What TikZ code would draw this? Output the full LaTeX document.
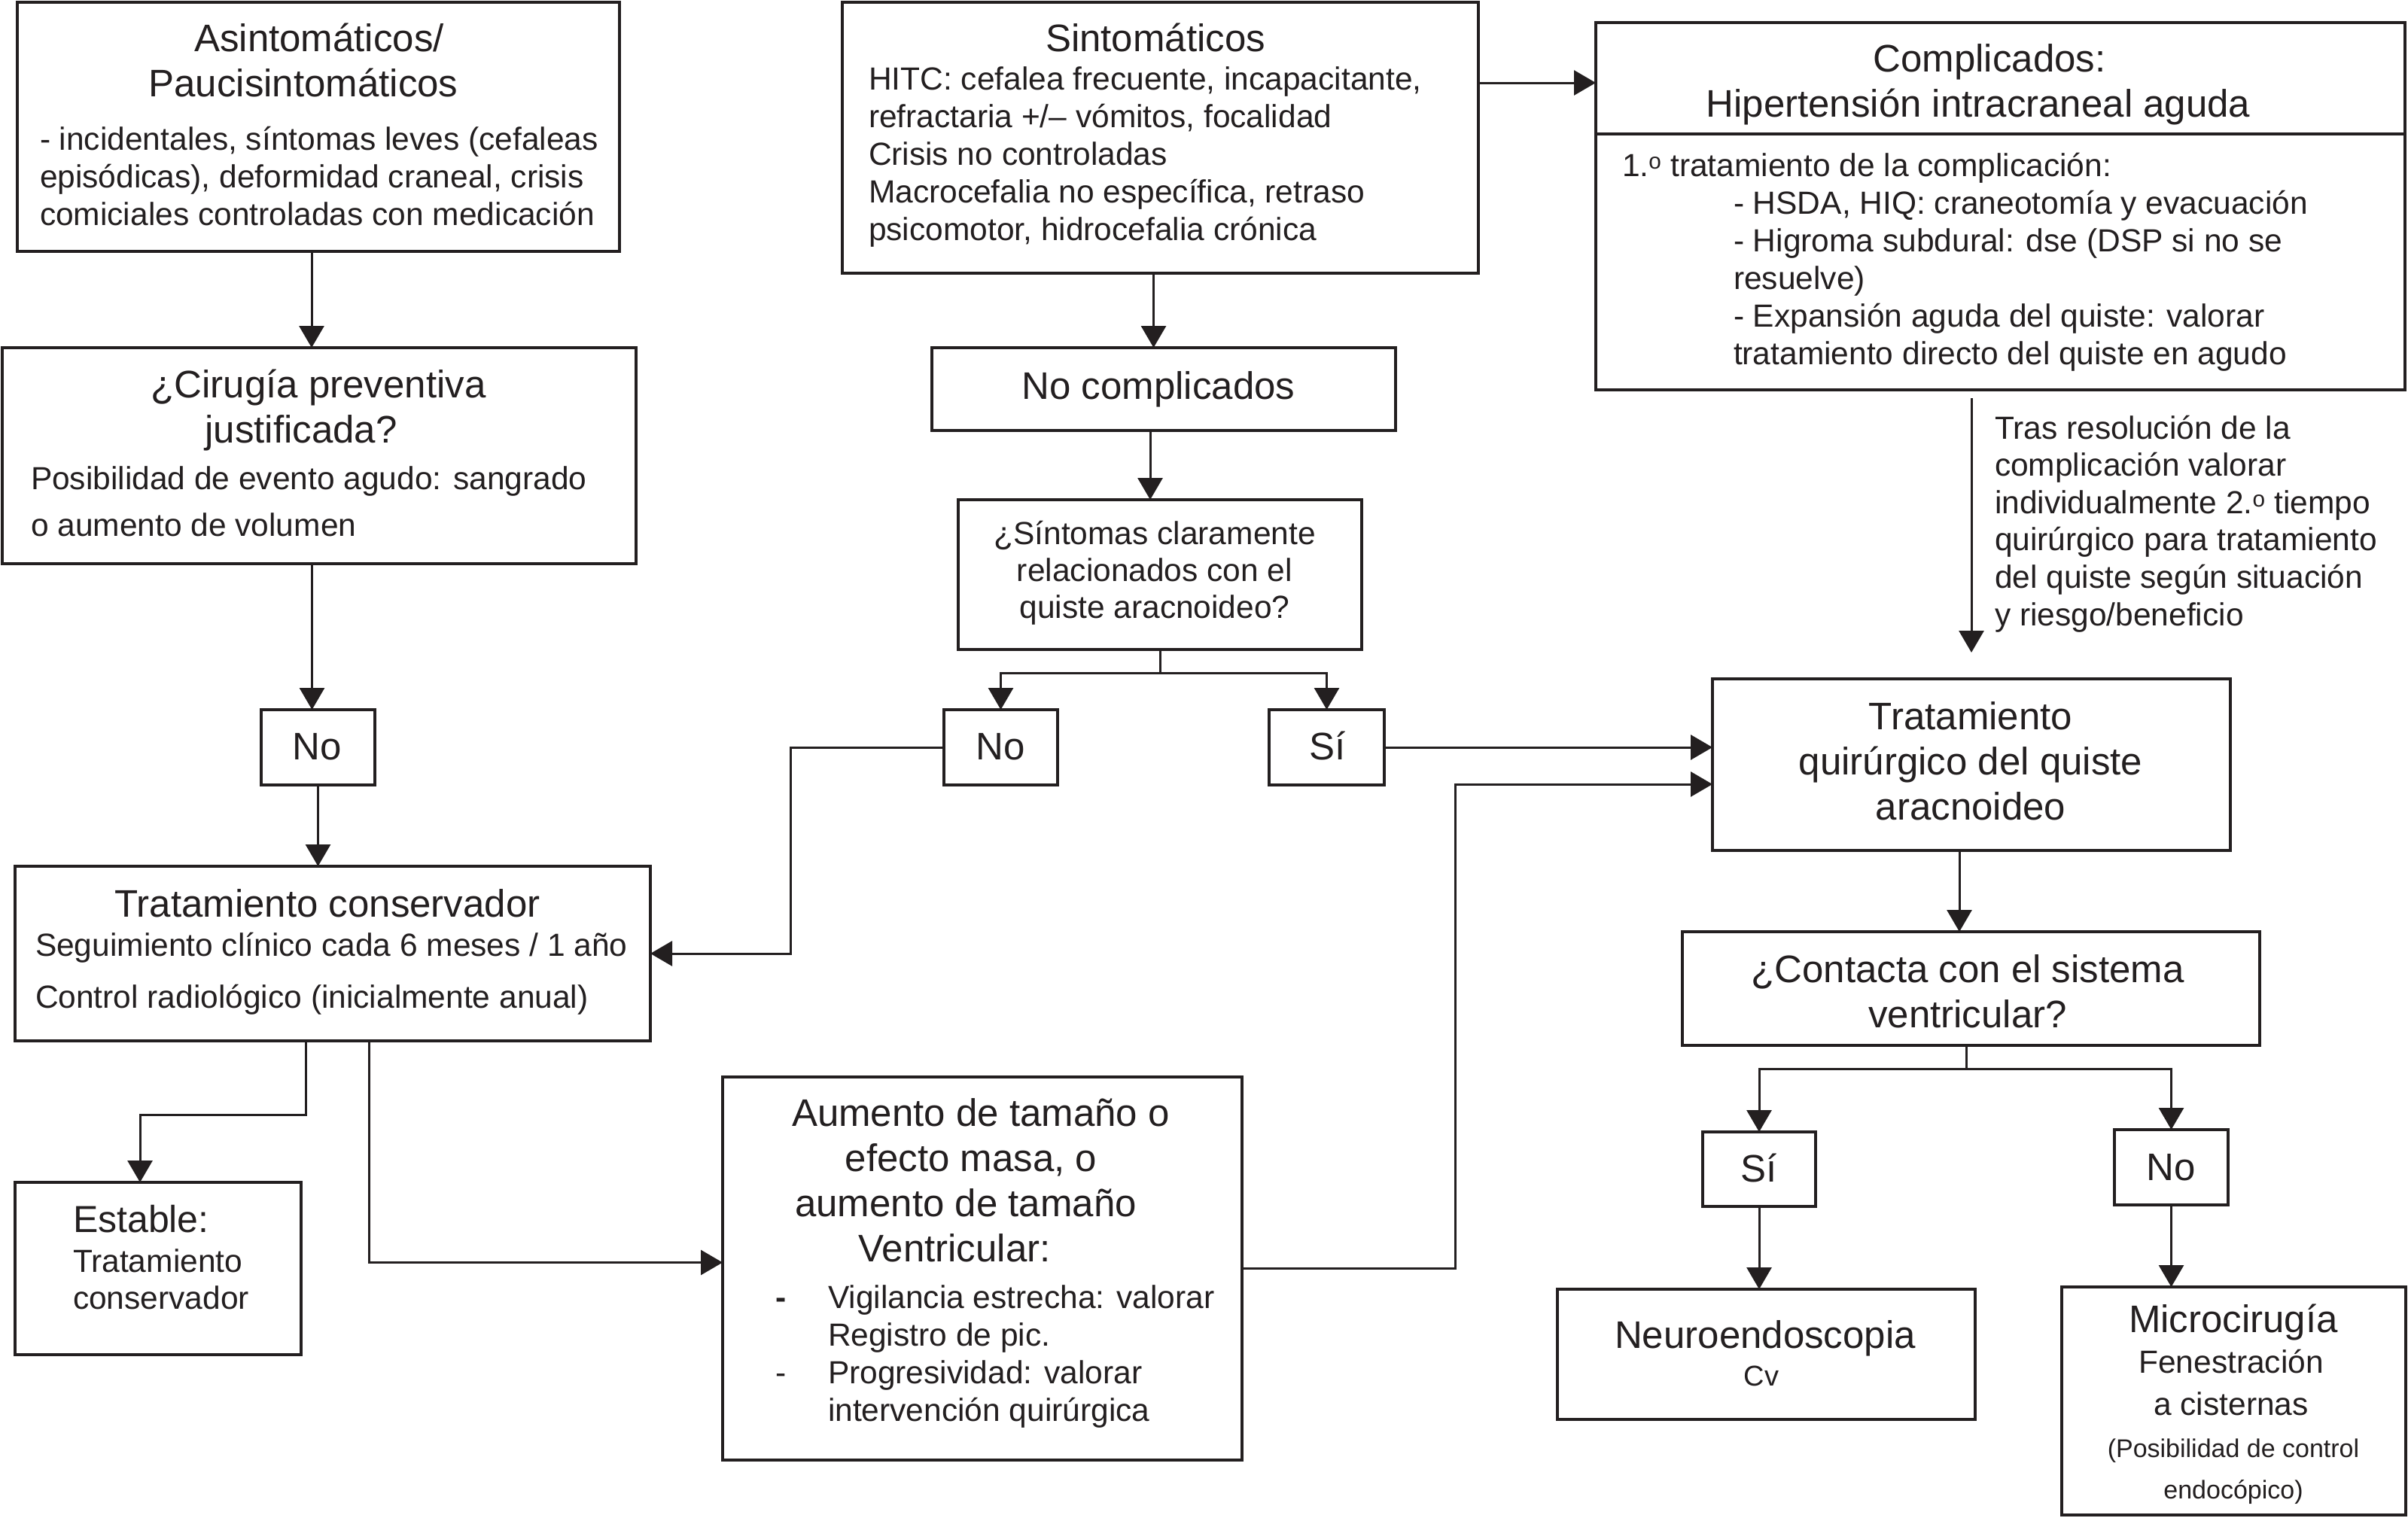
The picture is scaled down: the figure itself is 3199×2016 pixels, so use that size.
\documentclass[tikz,border=0pt]{standalone}
\usepackage{fontspec}
\setmainfont{Liberation Sans}
\usetikzlibrary{arrows.meta}
\definecolor{ink}{RGB}{35,31,32}
\newcommand{\CL}[2]{\vtop{#1\halign{\hfil##\hfil\cr#2\crcr}}}
\newcommand{\LL}[2]{\vtop{#1\halign{##\hfil\cr#2\crcr}}}
\newcommand{\fT}{\fontsize{51}{60}\selectfont}
\newcommand{\fB}[1]{\fontsize{42.5}{#1}\selectfont}
\newcommand{\bx}[5]{\node[box, minimum width={#4-#2}, minimum height={#5-#3}] (#1) at ({(#2+#4)/2},{(#3+#5)/2}) {};}
\tikzset{
  box/.style={draw=ink, line width=3.5pt, inner sep=0pt, outer sep=0pt},
  txt/.style={inner sep=0pt, outer sep=0pt, text=ink},
  arr/.style={draw=ink, line width=3pt, -{Triangle[length=29pt,width=33pt]}},
  ln/.style={draw=ink, line width=3pt},
}
\begin{document}
\begin{tikzpicture}[x=1pt,y=-1pt]
\fill[white] (0,0) rectangle (3199,2016);
\useasboundingbox (0,0) rectangle (3199,2016);
% boxes
\bx{A}{23}{3}{823}{334}
\bx{B}{1119}{3}{1964}{363}
\bx{C}{2120}{30}{3195}{518}
\draw[ln, line width=3.5pt] ([yshift=-148pt]C.north west) -- ([yshift=-148pt]C.north east);
\bx{D}{3}{462}{845}{749}
\bx{E}{1238}{462}{1854}{572}
\bx{F}{1273}{664}{1809}{863}
\bx{G}{347}{943}{498}{1043}
\bx{H}{1254}{943}{1405}{1043}
\bx{I}{1686}{943}{1839}{1043}
\bx{J}{2275}{902}{2963}{1130}
\bx{K}{20}{1151}{864}{1383}
\bx{L}{20}{1571}{400}{1800}
\bx{M}{960}{1431}{1650}{1940}
\bx{N}{2235}{1238}{3002}{1389}
\bx{O}{2262}{1504}{2412}{1603}
\bx{P}{2809}{1501}{2960}{1601}
\bx{Q}{2069}{1713}{2624}{1886}
\bx{R}{2739}{1710}{3196}{2013}
% texts
\node[txt,anchor=base] (At) at (424,68) {\CL{\fT}{Asintomáticos/\cr Paucisintomáticos\hskip42pt}};
\node[txt,anchor=base west] (Ab) at (53,199) {\LL{\fB{50}}{- incidentales, síntomas leves (cefaleas\cr episódicas), deformidad craneal, crisis\cr comiciales controladas con medicación}};
\node[txt,anchor=base] (Dt) at (423,528) {\CL{\fT}{¿Cirugía preventiva\cr justificada?\hskip46pt}};
\node[txt,anchor=base west] (Db) at (41,650) {\LL{\fB{62}}{Posibilidad de evento agudo: sangrado\cr o aumento de volumen}};
\node[txt,anchor=base] (Bt) at (1535,68) {\CL{\fT}{Sintomáticos}};
\node[txt,anchor=base west] (Bb) at (1154,119) {\LL{\fB{50}}{HITC: cefalea frecuente, incapacitante,\cr refractaria +/– vómitos, focalidad\cr Crisis no controladas\cr Macrocefalia no específica, retraso\cr psicomotor, hidrocefalia crónica}};
\node[txt,anchor=base] (Ct) at (2643,95) {\CL{\fT}{Complicados:\cr Hipertensión intracraneal aguda\hskip30pt}};
\node[txt,anchor=base west] (Cb1) at (2155,234) {\LL{\fB{50}}{1.\textsuperscript{o} tratamiento de la complicación:}};
\node[txt,anchor=base west] (Cb2) at (2303,284) {\LL{\fB{50}}{- HSDA, HIQ: craneotomía y evacuación\cr - Higroma subdural: dse (DSP si no se\cr resuelve)\cr - Expansión aguda del quiste: valorar\cr tratamiento directo del quiste en agudo}};
\node[txt,anchor=base west] (T) at (2650,583) {\LL{\fB{49.6}}{Tras resolución de la\cr complicación valorar\cr individualmente 2.\textsuperscript{o} tiempo\cr quirúrgico para tratamiento\cr del quiste según situación\cr y riesgo/beneficio}};
\node[txt,anchor=base] (Et) at (1539,530) {\CL{\fT}{No complicados}};
\node[txt,anchor=base] (Ft) at (1534,723) {\CL{\fB{49}}{¿Síntomas claramente\cr relacionados con el\cr quiste aracnoideo?}};
\node[txt,anchor=base] (Gt) at (421,1009) {\CL{\fT}{No}};
\node[txt,anchor=base] (Ht) at (1329,1009) {\CL{\fT}{No}};
\node[txt,anchor=base] (It) at (1764,1009) {\CL{\fT}{Sí}};
\node[txt,anchor=base] (Kt) at (435,1218) {\CL{\fT}{Tratamiento conservador}};
\node[txt,anchor=base west] (Kb) at (47,1270) {\LL{\fB{69}}{Seguimiento clínico cada 6 meses / 1 año\cr Control radiológico (inicialmente anual)}};
\node[txt,anchor=base west] (Lt) at (97,1637) {\LL{\fontsize{50}{60}\selectfont}{Estable:}};
\node[txt,anchor=base west] (Lb) at (97,1690) {\LL{\fB{49}}{Tratamiento\cr conservador}};
\node[txt,anchor=base] (Mt) at (1287,1496) {\CL{\fT}{\hskip32pt Aumento de tamaño o\cr \hskip6pt efecto masa, o\cr aumento de tamaño\hskip8pt\cr Ventricular:\hskip38pt}};
\node[txt,anchor=base west] (Md) at (1030,1738) {\LL{\fB{100}}{\textbf{-}\cr -}};
\node[txt,anchor=base west] (Mb) at (1100,1738) {\LL{\fB{50}}{Vigilancia estrecha: valorar\cr Registro de pic.\cr Progresividad: valorar\cr intervención quirúrgica}};
\node[txt,anchor=base] (Jt) at (2618,969) {\CL{\fT}{Tratamiento\cr quirúrgico del quiste\cr aracnoideo}};
\node[txt,anchor=base] (Nt) at (2614,1305) {\CL{\fT}{¿Contacta con el sistema\cr ventricular?}};
\node[txt,anchor=base] (Ot) at (2337,1570) {\CL{\fT}{Sí}};
\node[txt,anchor=base] (Pt) at (2884,1568) {\CL{\fT}{No}};
\node[txt,anchor=base] (Qt) at (2345,1791) {\CL{\fT}{Neuroendoscopia}};
\node[txt,anchor=base] (Qb) at (2340,1841) {\CL{\fontsize{38}{45}\selectfont}{Cv}};
\node[txt,anchor=base] (Rt) at (2967,1770) {\CL{\fT}{Microcirugía}};
\node[txt,anchor=base] (Rb) at (2964,1824) {\CL{\fB{56}}{Fenestración\cr a cisternas}};
\node[txt,anchor=base] (Rc) at (2967,1936) {\CL{\fontsize{34}{55}\selectfont}{(Posibilidad de control\cr endocópico)}};
% connectors
\draw[arr] ([xshift=-9pt]A.south) -- ([xshift=-9pt]A.south |- D.north);
\draw[arr] ([xshift=-8pt]G.north |- D.south) -- ([xshift=-8pt]G.north);
\draw[arr] (G.south) -- (G.south |- K.north);
\draw[arr] ([yshift=73pt]B.east) -- ([yshift=73pt]B.east -| C.west);
\draw[arr] ([xshift=-9pt]B.south) -- ([xshift=-9pt]B.south |- E.north);
\draw[arr] ([xshift=-13pt]F.north |- E.south) -- ([xshift=-13pt]F.north);
\draw[ln] (F.south) -- ++(0,31) coordinate (Fs);
\draw[arr] (Fs) -| (H.north);
\draw[arr] (Fs) -| (I.north);
\draw[arr] (H.west) -- ++(-204,0) |- (K.east);
\draw[arr] (I.east) -- (I.east -| J.west);
\draw[arr] (M.east) -- ++(283,0) |- ([yshift=-26pt]J.west);
\draw[arr] ([xshift=-36pt]K.south) -- ++(0,98) -| ([xshift=-24pt]L.north);
\draw[arr] ([xshift=48pt]K.south) |- ([yshift=8pt]M.west);
\draw[arr, shorten <=11pt, shorten >=35pt] (J.north |- C.south) -- (J.north);
\draw[arr] ([xshift=-16pt]J.south) -- ([xshift=-16pt]J.south |- N.north);
\draw[ln] ([xshift=-6pt]N.south) -- ++(0,31) coordinate (Ns);
\draw[arr] (Ns) -| (O.north);
\draw[arr] (Ns) -| (P.north);
\draw[arr] (O.south) -- (O.south |- Q.north);
\draw[arr] (P.south) -- (P.south |- R.north);
\end{tikzpicture}
\end{document}
